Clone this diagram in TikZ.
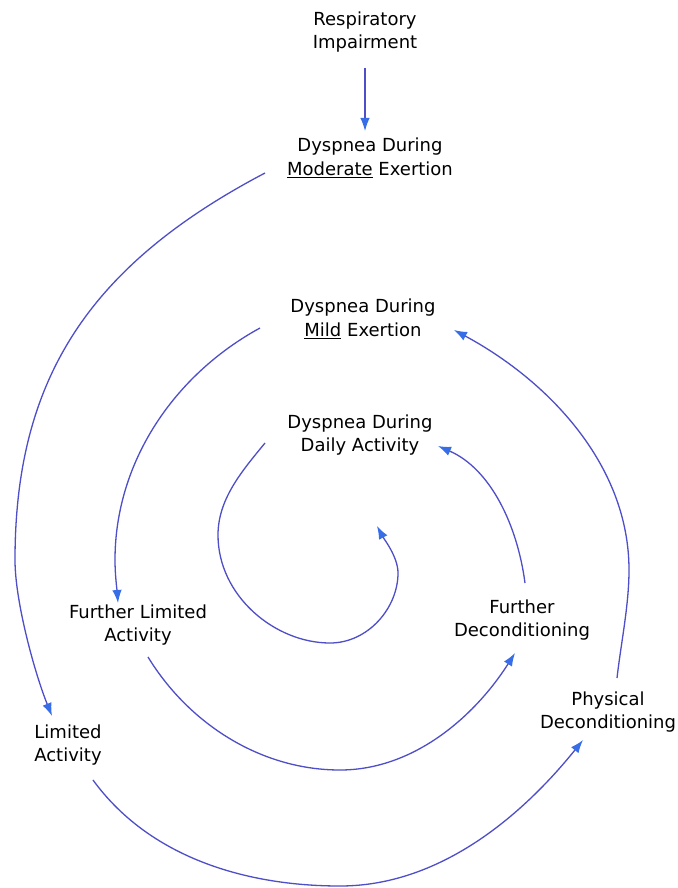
\documentclass[tikz,border=0pt]{standalone}
\usepackage{fontspec}
\setmainfont{DejaVu Sans}
\usetikzlibrary{arrows.meta}
\definecolor{lineblue}{RGB}{78,78,200}
\definecolor{headblue}{RGB}{55,110,232}
\tikzset{
  lbl/.style={align=center, inner sep=0pt, font=\fontsize{18}{23.5}\selectfont},
  flow/.style={draw=lineblue, line width=1.3pt,
    -{Latex[length=13pt,width=9.5pt,color=headblue]}},
}
\begin{document}
\begin{tikzpicture}[x=1pt,y=-1pt]
\path[use as bounding box, fill=white] (0,0) rectangle (677,888);

% nodes
\node[lbl] (resp) at (365,32) {Respiratory\\Impairment};
\node[lbl] (mod) at (370,158) {Dyspnea During\\\underline{Moderate} Exertion};
\node[lbl] (mild) at (363,319) {Dyspnea During\\\underline{Mild} Exertion};
\node[lbl] (daily) at (360,435) {Dyspnea During\\Daily Activity};
\node[lbl] (flim) at (138,625) {Further Limited\\Activity};
\node[lbl] (lim) at (68,745) {Limited\\Activity};
\node[lbl] (fdec) at (522,620) {Further\\Deconditioning};
\node[lbl] (phys) at (608,712) {Physical\\Deconditioning};

% connector end points
\coordinate (respOut) at (365,68);
\coordinate (modIn) at (365,131);
\coordinate (modOut) at (265,173);
\coordinate (limIn) at (52,716);
\coordinate (limOut) at (93,780);
\coordinate (physIn) at (583,740);
\coordinate (physOut) at (617,678);
\coordinate (mildIn) at (454,330);
\coordinate (mildOut) at (260,328);
\coordinate (flimIn) at (118,603);
\coordinate (flimOut) at (148,657);
\coordinate (fdecIn) at (515,653);
\coordinate (fdecOut) at (525,583);
\coordinate (dailyIn) at (438,446);
\coordinate (dailyOut) at (265,443);
\coordinate (centre) at (377,526);

% connectors
\draw[flow] (respOut) -- (modIn);

% outer turn
\draw[flow] (modOut) .. controls (88,266) and (15,380) .. (15,560)
  .. controls (15,602) and (35,674) .. (limIn);
\draw[flow] (limOut) .. controls (149,857) and (245,886) .. (340,886)
  .. controls (439,886) and (521,817) .. (physIn);
\draw[flow] (physOut) .. controls (621,643) and (629,605) .. (629,570)
  .. controls (629,464) and (547,380) .. (mildIn);

% middle turn
\draw[flow] (mildOut) .. controls (174,375) and (115,462) .. (115,560)
  .. controls (115,575) and (117,590) .. (flimIn);
\draw[flow] (flimOut) .. controls (189,724) and (261,770) .. (340,770)
  .. controls (414,770) and (475,716) .. (fdecIn);
\draw[flow] (fdecOut) .. controls (517.5,526) and (491,469) .. (dailyIn);

% inner turn
\draw[flow] (dailyOut) .. controls (242,471) and (218,499) .. (218,535)
  .. controls (218,596) and (275,643) .. (330,643)
  .. controls (368,643) and (398,608) .. (398,573)
  .. controls (398,557) and (384,539) .. (centre);
\end{tikzpicture}
\end{document}
